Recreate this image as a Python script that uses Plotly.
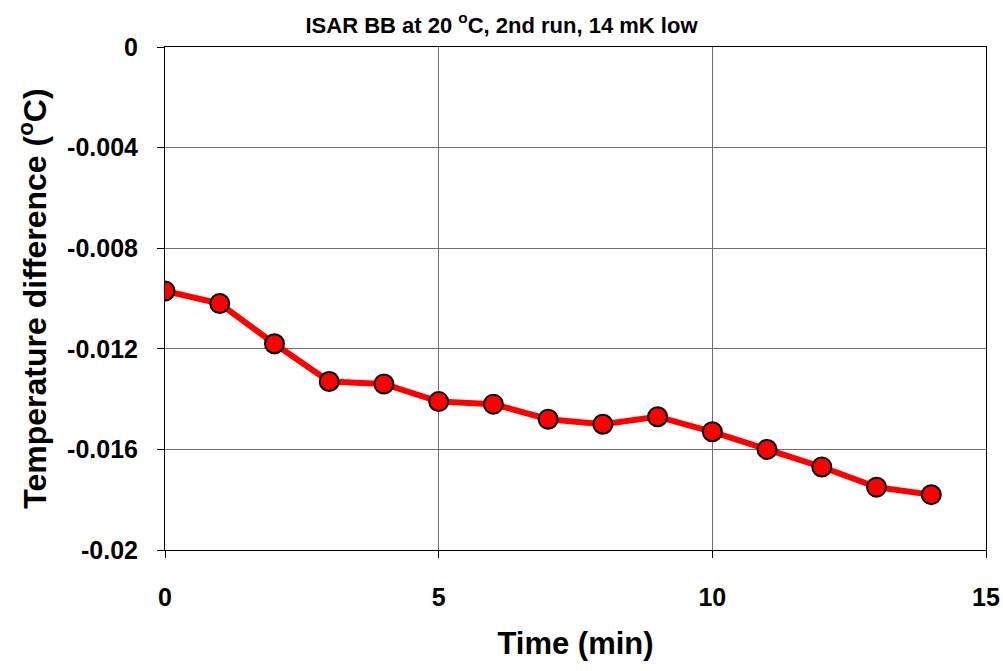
import plotly.graph_objects as go

time_min = [0, 1, 2, 3, 4, 5, 6, 7, 8, 9, 10, 11, 12, 13, 14]
temp_diff = [-0.0097, -0.0102, -0.0118, -0.0133, -0.0134, -0.0141, -0.0142,
             -0.0148, -0.0150, -0.0147, -0.0153, -0.0160, -0.0167, -0.0175, -0.0178]

x_ticks = [0, 5, 10, 15]
y_ticks = [0, -0.004, -0.008, -0.012, -0.016, -0.02]
y_tick_text = ["0", "-0.004", "-0.008", "-0.012", "-0.016", "-0.02"]

font_family = "Liberation Sans, Arial, sans-serif"

fig = go.Figure()
fig.add_trace(go.Scatter(
    x=time_min, y=temp_diff, mode="lines+markers",
    line=dict(color="#ff0000", width=6),
    marker=dict(size=19, color="#ff0000", line=dict(color="black", width=2)),
    showlegend=False,
))

fig.update_layout(
    width=1003, height=671,
    margin=dict(l=165, r=17, t=47, b=121),
    paper_bgcolor="white", plot_bgcolor="white",
    font=dict(family=font_family, color="black"),
    title=dict(text="<b>ISAR BB at 20 <sup>o</sup>C, 2nd run, 14 mK low</b>",
               x=0.5, xanchor="center", xref="container", y=0.963, yanchor="middle",
               font=dict(size=22, family=font_family, color="black")),
)

fig.update_xaxes(
    range=[0, 15], tickvals=x_ticks, ticktext=[f"<b>{v}</b>" for v in x_ticks],
    tickfont=dict(size=25, family=font_family, color="black"),
    ticks="outside", ticklen=7, tickcolor="black", ticklabelstandoff=18,
    ticklabeloverflow="allow",
    showgrid=True, gridcolor="#6e6e6e", gridwidth=1,
    showline=True, linecolor="black", linewidth=1, mirror=True,
    zeroline=False, automargin=False,
    title=dict(text="<b>Time (min)</b>", font=dict(size=31, family=font_family, color="black"),
               standoff=22),
)
fig.update_yaxes(
    range=[-0.02, 0], tickvals=y_ticks, ticktext=[f"<b>{t}</b>" for t in y_tick_text],
    tickfont=dict(size=25, family=font_family, color="black"),
    ticks="outside", ticklen=7, tickcolor="black", ticklabelstandoff=14,
    showgrid=True, gridcolor="#6e6e6e", gridwidth=1,
    showline=True, linecolor="black", linewidth=1, mirror=True,
    zeroline=False, automargin=False,
    title=dict(text="<b>Temperature difference (<sup>o</sup>C)</b>",
               font=dict(size=32, family=font_family, color="black"), standoff=10),
)

fig.write_html("out.html")
